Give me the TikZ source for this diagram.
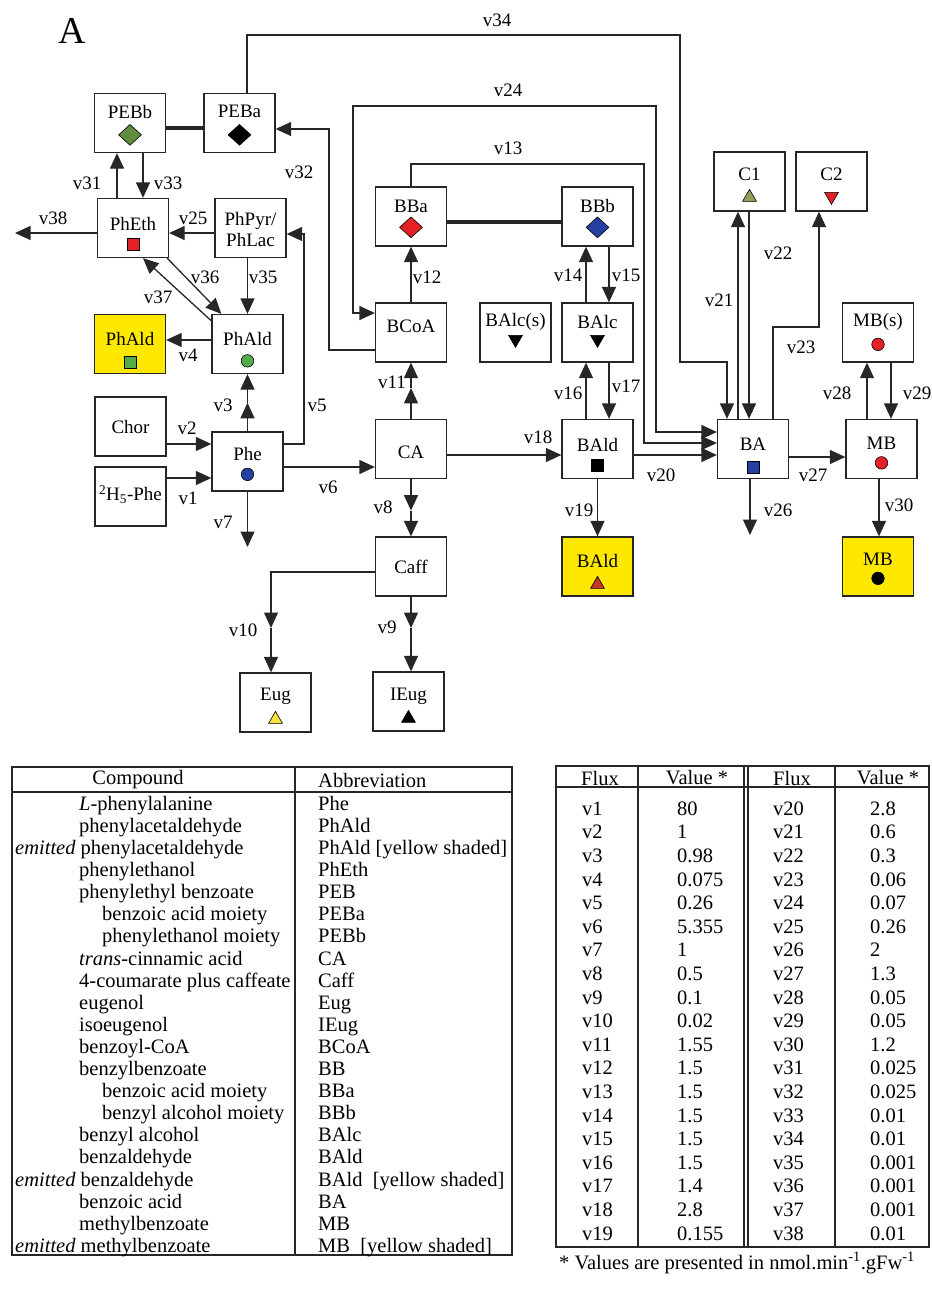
\documentclass[tikz,border=0pt]{standalone}
\usepackage{fontspec}
\setmainfont{Liberation Serif}
\usetikzlibrary{arrows.meta,calc,shapes.geometric}
\definecolor{lc}{gray}{0.15}
\definecolor{yel}{RGB}{255,232,0}
\definecolor{mgreen}{RGB}{96,140,66}
\definecolor{lgreen}{RGB}{82,172,72}
\definecolor{mred}{RGB}{228,34,38}
\definecolor{mblue}{RGB}{36,64,160}
\definecolor{olivec}{RGB}{142,158,92}
\definecolor{tyel}{RGB}{246,224,58}
\definecolor{brred}{RGB}{196,56,36}
\newcommand{\diafont}{\fontsize{19}{21}\selectfont}
\newcommand{\tabfont}{\fontsize{20.5}{22}\selectfont}
\begin{document}
\begin{tikzpicture}[x=1pt,y=-1pt,
  >={Triangle[length=15.5pt,width=14pt]},
  box/.style={draw=lc, line width=1.3pt, fill=white, minimum width=71pt, minimum height=59pt, inner sep=0pt},
  ybox/.style={box, fill=yel},
  lbl/.style={font=\diafont, inner sep=0pt, text=black},
  vl/.style={font=\diafont, inner sep=0pt, text=black},
  arr/.style={draw=lc, line width=1.3pt, ->},
  arrb/.style={draw=lc, line width=1.3pt, <->},
  thk/.style={draw=lc, line width=3.4pt},
  sq/.style={rectangle, draw=black, line width=0.6pt, minimum size=12pt, inner sep=0pt},
  circ/.style={circle, draw=black, line width=0.6pt, minimum size=12.5pt, inner sep=0pt},
  diam/.style={diamond, draw=black, line width=0.6pt, minimum width=23pt, minimum height=21pt, inner sep=0pt},
  tup/.style={regular polygon, regular polygon sides=3, draw=black, line width=0.6pt, minimum size=16pt, inner sep=0pt},
  tdn/.style={tup, shape border rotate=180},
  tline/.style={draw=lc, line width=1.3pt},
  ttxt/.style={font=\tabfont, inner sep=0pt, text=black}
]
\useasboundingbox (0,0) rectangle (932,1307);

% title
\node[font=\fontsize{38}{40}\selectfont, inner sep=0pt, text=black] (title) at (72,31) {A};

% ---------------- boxes ----------------
\node[box] (PEBb) at (130,123) {};
\node[lbl] (tPEBb) at ($(PEBb.north)+(0,19)$) {PEBb};
\node[diam, fill=mgreen] (mPEBb) at ($(PEBb.north)+(0,42)$) {};

\node[box] (PEBa) at (239.5,123) {};
\node[lbl] (tPEBa) at ($(PEBa.north)+(0,19)$) {PEBa};
\node[diam, fill=black] (mPEBa) at ($(PEBa.north)+(0,42)$) {};

\node[box] (PhEth) at (133,228) {};
\node[lbl] (tPhEth) at ($(PhEth.north)+(0,26)$) {PhEth};
\node[sq, fill=mred] (mPhEth) at ($(PhEth.north)+(0,46)$) {};

\node[box] (PhPyr) at (250.5,228) {};
\node[lbl, align=center] (tPhPyr) at ($(PhPyr.center)+(0,1.5)$) {PhPyr/\\PhLac};

\node[ybox] (PhAldY) at (130,344) {};
\node[lbl] (tPhAldY) at ($(PhAldY.north)+(0,25)$) {PhAld};
\node[sq, fill=lgreen] (mPhAldY) at ($(PhAldY.north)+(0,48)$) {};

\node[box] (PhAld) at (247.5,344) {};
\node[lbl] (tPhAld) at ($(PhAld.north)+(0,25)$) {PhAld};
\node[circ, fill=lgreen] (mPhAld) at ($(PhAld.north)+(0,47)$) {};

\node[box] (Chor) at (130.5,426.5) {};
\node[lbl] (tChor) at (Chor.center) {Chor};

\node[box] (HPhe) at (130.5,496.5) {};
\node[lbl] (tHPhe) at ($(HPhe.center)+(0,-2)$) {\textsuperscript{2}H\textsubscript{5}-Phe};

\node[box] (Phe) at (247.5,461.5) {};
\node[lbl] (tPhe) at ($(Phe.north)+(0,23)$) {Phe};
\node[circ, fill=mblue] (mPhe) at ($(Phe.north)+(0,43)$) {};

\node[box] (BBa) at (411,216.5) {};
\node[lbl] (tBBa) at ($(BBa.north)+(0,20)$) {BBa};
\node[diam, fill=mred] (mBBa) at ($(BBa.north)+(0,41)$) {};

\node[box] (BCoA) at (411,332.5) {};
\node[lbl] (tBCoA) at ($(BCoA.north)+(0,24)$) {BCoA};

\node[box] (CA) at (411,449) {};
\node[lbl] (tCA) at ($(CA.north)+(0,33)$) {CA};

\node[box] (Caff) at (411,566.5) {};
\node[lbl] (tCaff) at (Caff.center) {Caff};

\node[box] (Eug) at (275.5,702.5) {};
\node[lbl] (tEug) at ($(Eug.north)+(0,24)$) {Eug};
\node[tup, fill=tyel] (mEug) at ($(Eug.north)+(0,47)$) {};

\node[box] (IEug) at (408.5,701.5) {};
\node[lbl] (tIEug) at ($(IEug.north)+(0,25)$) {IEug};
\node[tup, fill=black] (mIEug) at ($(IEug.north)+(0,47)$) {};

\node[box] (BAlcs) at (515.5,332.5) {};
\node[lbl] (tBAlcs) at ($(BAlcs.north)+(0,20)$) {BAlc(s)};
\node[tdn, fill=black] (mBAlcs) at ($(BAlcs.north)+(0,37)$) {};

\node[box] (BBb) at (597.5,216.5) {};
\node[lbl] (tBBb) at ($(BBb.north)+(0,20)$) {BBb};
\node[diam, fill=mblue] (mBBb) at ($(BBb.north)+(0,41)$) {};

\node[box] (BAlc) at (597.5,332.5) {};
\node[lbl] (tBAlc) at ($(BAlc.north)+(0,20)$) {BAlc};
\node[tdn, fill=black] (mBAlc) at ($(BAlc.north)+(0,37)$) {};

\node[box] (BAld) at (597.5,449) {};
\node[lbl] (tBAld) at ($(BAld.north)+(0,26)$) {BAld};
\node[sq, fill=black] (mBAld) at ($(BAld.north)+(0,46)$) {};

\node[ybox] (BAldY) at (597.5,566.5) {};
\node[lbl] (tBAldY) at ($(BAldY.north)+(0,25)$) {BAld};
\node[tup, fill=brred] (mBAldY) at ($(BAldY.north)+(0,48)$) {};

\node[box] (C1) at (749.5,181.5) {};
\node[lbl] (tC1) at ($(C1.north)+(0,23)$) {C1};
\node[tup, fill=olivec] (mC1) at ($(C1.north)+(0,46)$) {};

\node[box] (C2) at (831.5,181.5) {};
\node[lbl] (tC2) at ($(C2.north)+(0,23)$) {C2};
\node[tdn, fill=mred] (mC2) at ($(C2.north)+(0,45)$) {};

\node[box] (BA) at (753,449) {};
\node[lbl] (tBA) at ($(BA.north)+(0,25)$) {BA};
\node[sq, fill=mblue] (mBA) at ($(BA.north)+(0,48)$) {};

\node[box] (MBs) at (878,332.5) {};
\node[lbl] (tMBs) at ($(MBs.north)+(0,20)$) {MB(s)};
\node[circ, fill=mred] (mMBs) at ($(MBs.north)+(0,42)$) {};

\node[box] (MB) at (881.5,449) {};
\node[lbl] (tMB) at ($(MB.north)+(0,24)$) {MB};
\node[circ, fill=mred] (mMB) at ($(MB.north)+(0,44)$) {};

\node[ybox] (MBY) at (878,566.5) {};
\node[lbl] (tMBY) at ($(MBY.north)+(0,23)$) {MB};
\node[circ, fill=black] (mMBY) at ($(MBY.north)+(0,42)$) {};

% free ends and mid points of double-headed fluxes
\coordinate (v7e) at (247.5,547);
\coordinate (v26e) at (750,535);
\coordinate (v38e) at (15,233);
\coordinate (v3m) at ($(Phe.north)!0.5!(PhAld.south)$);
\coordinate (v8m) at ($(CA.south)!0.55!(Caff.north)$);
\coordinate (v9m) at ($(Caff.south)!0.42!(Caff.south |- IEug.north)$);
\coordinate (v10m) at (271,628);
\coordinate (v11m) at ($(CA.north)!0.55!(BCoA.south)$);

% ---------------- connectors ----------------
\draw[thk] (PEBb.east |- 0,128) -- (PEBa.west |- 0,128);
\draw[thk] (BBa.east |- 0,222) -- (BBb.west |- 0,222);

\draw[arr] (HPhe.east |- 0,478) -- (Phe.west |- 0,478); % v1
\draw[arr] (Chor.east |- 0,444) -- (Phe.west |- 0,444); % v2
\draw[arr] (Phe.north) -- (v3m); % v3
\draw[arr] (v3m) -- (PhAld.south);
\draw[arr] (PhAld.west |- 0,340) -- (PhAldY.east |- 0,340); % v4
\draw[arr] (Phe.east |- 0,444) -- (304,444) -- (304,234) -- (PhPyr.east |- 0,234); % v5
\draw[arr] (Phe.east |- 0,467) -- (CA.west |- 0,467); % v6
\draw[arr] (Phe.south) -- (v7e); % v7
\draw[arr] (CA.south) -- (v8m); % v8
\draw[arr] (v8m) -- (Caff.north);
\draw[arr] (Caff.south) -- (v9m); % v9
\draw[arr] (v9m) -- (Caff.south |- IEug.north);
\draw[arr] (Caff.west |- 0,572) -| (v10m); % v10
\draw[arr] (v10m) -- (Eug.north -| v10m);
\draw[arr] (CA.north) -- (v11m); % v11
\draw[arr] (v11m) -- (BCoA.south);
\draw[arr] (BCoA.north) -- (BBa.south); % v12
\draw[arr] (BBa.north) -- (BBa.north |- 0,164) -- (644,164) -- (644,443) -- (BA.west |- 0,443); % v13
\draw[arr] (BAlc.north -| 586,0) -- (BBb.south -| 586,0); % v14
\draw[arr] (BBb.south -| 609,0) -- (BAlc.north -| 609,0); % v15
\draw[arr] (BAld.north -| 586,0) -- (BAlc.south -| 586,0); % v16
\draw[arr] (BAlc.south -| 609,0) -- (BAld.north -| 609,0); % v17
\draw[arr] (CA.east |- 0,455) -- (BAld.west |- 0,455); % v18
\draw[arr] (BAld.south) -- (BAldY.north); % v19
\draw[arr] (BAld.east |- 0,455) -- (BA.west |- 0,455); % v20
\draw[arr] (BA.north -| 738,0) -- (C1.south -| 738,0); % v21
\draw[arr] (C1.south -| 749,0) -- (BA.north -| 749,0); % v22
\draw[arr] (BA.north -| 773,0) -- (773,327) -- (819,327) -- (C2.south -| 819,0); % v23
\draw[arrb] (BCoA.west |- 0,313) -- (353,313) -- (353,106) -- (656,106) -- (656,432) -- (BA.west |- 0,432); % v24
\draw[arr] (PhPyr.west |- 0,233) -- (PhEth.east |- 0,233); % v25
\draw[arr] (BA.south -| v26e) -- (v26e); % v26
\draw[arr] (BA.east |- 0,457) -- (MB.west |- 0,457); % v27
\draw[arr] (MB.north -| 867,0) -- (MBs.south -| 867,0); % v28
\draw[arr] (MBs.south -| 891,0) -- (MB.north -| 891,0); % v29
\draw[arr] (MB.south -| 879,0) -- (MBY.north -| 879,0); % v30
\draw[arr] (PhEth.north -| 117,0) -- (PEBb.south -| 117,0); % v31
\draw[arr] (BCoA.west |- 0,350) -- (329,350) -- (329,129) -- (PEBa.east |- 0,129); % v32
\draw[arr] (PEBb.south -| 143,0) -- (PhEth.north -| 143,0); % v33
\draw[arr] (PEBa.north -| 247,0) -- (247,35) -- (680,35) -- (680,362) -- (727,362) -- (BA.north -| 727,0); % v34
\draw[arr] (PhPyr.south -| PhAld.north) -- (PhAld.north); % v35
\draw[arr] ($(PhEth.south east)+(-2,0)$) -- ($(PhAld.north west)+(10,0)$); % v36
\draw[arr] ($(PhAld.north west)+(0,7)$) -- ($(PhEth.south)+(10,0)$); % v37
\draw[arr] (PhEth.west |- v38e) -- (v38e); % v38

% ---------------- flux labels ----------------
\node[vl] (l1) at (188,498) {v1};
\node[vl] (l2) at (187,428) {v2};
\node[vl] (l3) at (223,405) {v3};
\node[vl] (l4) at (188,355) {v4};
\node[vl] (l5) at (317,405) {v5};
\node[vl] (l6) at (328,487) {v6};
\node[vl] (l7) at (223,522) {v7};
\node[vl] (l8) at (383,507) {v8};
\node[vl] (l9) at (387,627) {v9};
\node[vl] (l10) at (243,630) {v10};
\node[vl] (l11) at (392,382) {v11};
\node[vl] (l12) at (427,277) {v12};
\node[vl] (l13) at (508,148) {v13};
\node[vl] (l14) at (568,275) {v14};
\node[vl] (l15) at (626,275) {v15};
\node[vl] (l16) at (568,393) {v16};
\node[vl] (l17) at (626,386) {v17};
\node[vl] (l18) at (538,437) {v18};
\node[vl] (l19) at (579,510) {v19};
\node[vl] (l20) at (661,475) {v20};
\node[vl] (l21) at (719,300) {v21};
\node[vl] (l22) at (778,253) {v22};
\node[vl] (l23) at (801,347) {v23};
\node[vl] (l24) at (508,90) {v24};
\node[vl] (l25) at (193,218) {v25};
\node[vl] (l26) at (778,510) {v26};
\node[vl] (l27) at (813,475) {v27};
\node[vl] (l28) at (837,393) {v28};
\node[vl] (l29) at (917,393) {v29};
\node[vl] (l30) at (899,505) {v30};
\node[vl] (l31) at (87,183) {v31};
\node[vl] (l32) at (299,172) {v32};
\node[vl] (l33) at (168,183) {v33};
\node[vl] (l34) at (497,20) {v34};
\node[vl] (l35) at (263,277) {v35};
\node[vl] (l36) at (205,277) {v36};
\node[vl] (l37) at (158,297) {v37};
\node[vl] (l38) at (53,218) {v38};

% ---------------- compound table ----------------
\draw[tline] (12,767) rectangle (512,1255);
\draw[tline] (295,767) -- (295,1255);
\draw[tline] (12,792) -- (512,792);
\node[ttxt] (hC) at (138,780) {Compound};
\node[ttxt, anchor=west] (hA) at (318,780) {Abbreviation};
\foreach \i/\ind/\txt/\ab in {
 0/79/{\textit{L}-phenylalanine}/{Phe},
 1/79/{phenylacetaldehyde}/{PhAld},
 2/15/{\textit{emitted} phenylacetaldehyde}/{PhAld [yellow shaded]},
 3/79/{phenylethanol}/{PhEth},
 4/79/{phenylethyl benzoate}/{PEB},
 5/102/{benzoic acid moiety}/{PEBa},
 6/102/{phenylethanol moiety}/{PEBb},
 7/79/{\textit{trans}-cinnamic acid}/{CA},
 8/79/{4-coumarate plus caffeate}/{Caff},
 9/79/{eugenol}/{Eug},
 10/79/{isoeugenol}/{IEug},
 11/79/{benzoyl-CoA}/{BCoA},
 12/79/{benzylbenzoate}/{BB},
 13/102/{benzoic acid moiety}/{BBa},
 14/102/{benzyl alcohol moiety}/{BBb},
 15/79/{benzyl alcohol}/{BAlc},
 16/79/{benzaldehyde}/{BAld},
 17/15/{\textit{emitted} benzaldehyde}/{BAld~~[yellow shaded]},
 18/79/{benzoic acid}/{BA},
 19/79/{methylbenzoate}/{MB},
 20/15/{\textit{emitted} methylbenzoate}/{MB~~[yellow shaded]}}{
  \node[ttxt, anchor=base west] (cc\i) at (\ind, 810.3+22.1*\i) {\txt};
  \node[ttxt, anchor=base west] (ca\i) at (318, 810.3+22.1*\i) {\ab};
}

% ---------------- flux table ----------------
\draw[tline] (556,766) rectangle (929,1247);
\draw[tline] (638,766) -- (638,1247);
\draw[tline] (744,766) -- (744,1247);
\draw[tline] (748,766) -- (748,1247);
\draw[tline] (835,766) -- (835,1247);
\draw[tline] (556,787) -- (929,787);
\node[ttxt] (hF1) at (600,778) {Flux};
\node[ttxt] (hV1) at (697,778) {Value *};
\node[ttxt] (hF2) at (792,778) {Flux};
\node[ttxt] (hV2) at (888,778) {Value *};
\foreach \i/\fa/\va/\fb/\vb in {
 0/v1/80/v20/2.8, 1/v2/1/v21/0.6, 2/v3/0.98/v22/0.3, 3/v4/0.075/v23/0.06,
 4/v5/0.26/v24/0.07, 5/v6/5.355/v25/0.26, 6/v7/1/v26/2, 7/v8/0.5/v27/1.3,
 8/v9/0.1/v28/0.05, 9/v10/0.02/v29/0.05, 10/v11/1.55/v30/1.2, 11/v12/1.5/v31/0.025,
 12/v13/1.5/v32/0.025, 13/v14/1.5/v33/0.01, 14/v15/1.5/v34/0.01, 15/v16/1.5/v35/0.001,
 16/v17/1.4/v36/0.001, 17/v18/2.8/v37/0.001, 18/v19/0.155/v38/0.01}{
  \node[ttxt, anchor=base west] (fa\i) at (582, 815.3+23.6*\i) {\fa};
  \node[ttxt, anchor=base west] (va\i) at (677, 815.3+23.6*\i) {\va};
  \node[ttxt, anchor=base west] (fb\i) at (773, 815.3+23.6*\i) {\fb};
  \node[ttxt, anchor=base west] (vb\i) at (870, 815.3+23.6*\i) {\vb};
}
\node[ttxt, anchor=base west] (foot) at (559,1269) {* Values are presented in nmol.min\textsuperscript{-1}.gFw\textsuperscript{-1}};
\end{tikzpicture}
\end{document}
